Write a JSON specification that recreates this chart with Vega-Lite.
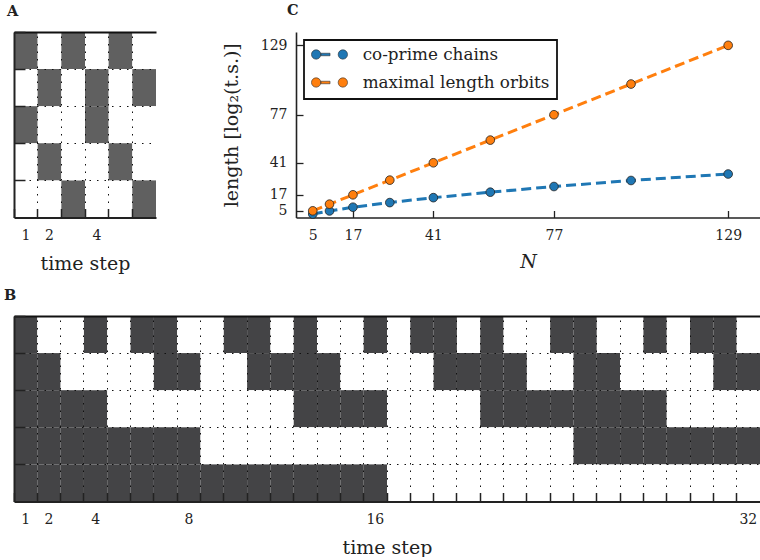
{
  "$schema": "https://vega.github.io/schema/vega-lite/v6.json",
  "padding": {"left": 4, "top": 2, "right": 0, "bottom": 0},
  "spacing": 14,
  "resolve": {"scale": {"color": "independent"}, "legend": {"color": "independent"}},
  "config": {
    "view": {"stroke": null},
    "font": "DejaVu Serif",
    "axis": {"labelFont": "DejaVu Serif", "titleFont": "DejaVu Serif", "labelColor": "#222", "titleColor": "#222", "labelFontSize": 14, "titleFontSize": 19, "titleFontWeight": "normal", "domainColor": "#222", "tickColor": "#222"},
    "legend": {"strokeWidth": 1.8},
    "title": {"font": "DejaVu Serif", "fontSize": 14.5, "fontWeight": "bold", "color": "#222", "anchor": "start", "frame": "group", "baseline": "alphabetic"}
  },
  "vconcat": [
    {
      "bounds": "flush",
      "spacing": 140,
      "resolve": {"scale": {"color": "independent"}, "legend": {"color": "independent"}},
      "hconcat": [
        {
          "width": 142,
          "height": 185.5,
          "title": {"text": "A", "dx": -7, "offset": 12},
          "data": {"values": [
            {"t":1,"r":1,"v":1},{"t":2,"r":1,"v":0},{"t":3,"r":1,"v":1},{"t":4,"r":1,"v":0},{"t":5,"r":1,"v":1},{"t":6,"r":1,"v":0},
            {"t":1,"r":2,"v":0},{"t":2,"r":2,"v":1},{"t":3,"r":2,"v":0},{"t":4,"r":2,"v":1},{"t":5,"r":2,"v":0},{"t":6,"r":2,"v":1},
            {"t":1,"r":3,"v":1},{"t":2,"r":3,"v":0},{"t":3,"r":3,"v":0},{"t":4,"r":3,"v":1},{"t":5,"r":3,"v":0},{"t":6,"r":3,"v":0},
            {"t":1,"r":4,"v":0},{"t":2,"r":4,"v":1},{"t":3,"r":4,"v":0},{"t":4,"r":4,"v":0},{"t":5,"r":4,"v":1},{"t":6,"r":4,"v":0},
            {"t":1,"r":5,"v":0},{"t":2,"r":5,"v":0},{"t":3,"r":5,"v":1},{"t":4,"r":5,"v":0},{"t":5,"r":5,"v":0},{"t":6,"r":5,"v":1}
          ]},
          "mark": {"type": "rect"},
          "encoding": {
            "x": {"field": "t", "type": "ordinal", "scale": {"paddingInner": 0, "paddingOuter": 0},
              "axis": {"title": "time step", "bandPosition": 0, "labelAngle": 0, "labelOverlap": false,
                "labelExpr": "indexof([1,2,4,8,16,32], datum.value) >= 0 ? datum.label : ''",
                "tickSize": -9, "tickWidth": 1.5, "labelPadding": 19.5, "titlePadding": 12,
                "grid": true, "gridDash": [1.5, 6], "gridColor": "#111", "gridWidth": 1,
                "domainWidth": 2, "zindex": 1}},
            "y": {"field": "r", "type": "ordinal", "scale": {"paddingInner": 0, "paddingOuter": 0},
              "axis": {"title": null, "labels": false, "bandPosition": 0, "tickSize": -11, "tickWidth": 1.5,
                "grid": true,
                "gridDash": {"condition": {"test": "datum.value === 1", "value": []}, "value": [1.5, 6]},
                "gridWidth": {"condition": {"test": "datum.value === 1", "value": 2}, "value": 1},
                "gridColor": "#111", "domainWidth": 2, "zindex": 1}},
            "color": {"field": "v", "type": "nominal", "scale": {"domain": [0, 1], "range": ["#ffffff", "#606060"]}, "legend": null}
          }
        },
        {
          "width": 464,
          "height": 185.5,
          "title": {"text": "C", "dx": -9, "offset": 14},
          "data": {"values": [
            {"N":5,"length":2.58,"series":"co-prime chains"},
            {"N":10,"length":4.91,"series":"co-prime chains"},
            {"N":17,"length":7.71,"series":"co-prime chains"},
            {"N":28,"length":11.17,"series":"co-prime chains"},
            {"N":41,"length":14.87,"series":"co-prime chains"},
            {"N":58,"length":18.96,"series":"co-prime chains"},
            {"N":77,"length":23.21,"series":"co-prime chains"},
            {"N":100,"length":27.73,"series":"co-prime chains"},
            {"N":129,"length":32.59,"series":"co-prime chains"},
            {"N":5,"length":5,"series":"maximal length orbits"},
            {"N":10,"length":10,"series":"maximal length orbits"},
            {"N":17,"length":17,"series":"maximal length orbits"},
            {"N":28,"length":28,"series":"maximal length orbits"},
            {"N":41,"length":41,"series":"maximal length orbits"},
            {"N":58,"length":58,"series":"maximal length orbits"},
            {"N":77,"length":77,"series":"maximal length orbits"},
            {"N":100,"length":100,"series":"maximal length orbits"},
            {"N":129,"length":129,"series":"maximal length orbits"}
          ]},
          "encoding": {
            "x": {"field": "N", "type": "quantitative", "scale": {"domain": [0, 138.5], "nice": false, "zero": false},
              "axis": {"title": "N", "titleFontStyle": "italic", "values": [5, 17, 41, 77, 129], "grid": false,
                "tickSize": -7, "tickWidth": 1.3, "labelPadding": 17.5, "titlePadding": 10, "domainWidth": 1.6, "labelFlush": false}},
            "y": {"field": "length", "type": "quantitative", "scale": {"domain": [0, 139], "nice": false},
              "axis": {"title": "length [log₂(t.s.)]", "values": [5, 17, 41, 77, 129], "grid": false,
                "tickSize": -7, "tickWidth": 1.3, "labelPadding": 16, "titlePadding": 19, "domainWidth": 1.6, "labelFlush": false}}
          },
          "layer": [
            {
              "mark": {"type": "line", "strokeDash": [10, 5], "strokeWidth": 3},
              "encoding": {"color": {"field": "series", "type": "nominal", "scale": {"domain": ["co-prime chains", "maximal length orbits"], "range": ["#1f77b4", "#ff7f0e"]}, "legend": null}}
            },
            {
              "mark": {"type": "point", "filled": true, "size": 75, "stroke": "#222", "strokeWidth": 0.8, "opacity": 1},
              "encoding": {"color": {"field": "series", "type": "nominal", "scale": {"domain": ["co-prime chains", "maximal length orbits"], "range": ["#1f77b4", "#ff7f0e"]},
                "legend": {"title": null, "orient": "top-left", "offset": 8,
                  "symbolType": "M -1.002 0 A 0.26 0.26 0 1 0 -0.482 0 A 0.26 0.26 0 1 0 -1.002 0 Z M -0.482 -0.07 L 0.03 -0.07 L 0.03 0.07 L -0.482 0.07 Z M 0.482 0 A 0.26 0.26 0 1 0 1.002 0 A 0.26 0.26 0 1 0 0.482 0 Z",
                  "symbolSize": 1296, "symbolStrokeColor": "#333", "symbolStrokeWidth": 0.6, "symbolOpacity": 1,
                  "clipHeight": 15, "rowPadding": 10, "padding": 7, "labelOffset": 14.7,
                  "labelFont": "DejaVu Serif", "labelFontSize": 16.8, "labelColor": "#222", "labelLimit": 300,
                  "strokeColor": "#111", "fillColor": "#ffffff", "cornerRadius": 0}}}
            }
          ],
          "resolve": {"legend": {"color": "independent"}}
        }
      ]
    },
    {
      "width": 746,
      "height": 185.5,
      "title": {"text": "B", "dx": -10, "offset": 12},
      "data": {"values": [
        {"t":1,"r":1,"v":1},{"t":2,"r":1,"v":0},{"t":3,"r":1,"v":0},{"t":4,"r":1,"v":1},{"t":5,"r":1,"v":0},{"t":6,"r":1,"v":1},{"t":7,"r":1,"v":1},{"t":8,"r":1,"v":0},
        {"t":9,"r":1,"v":0},{"t":10,"r":1,"v":1},{"t":11,"r":1,"v":1},{"t":12,"r":1,"v":0},{"t":13,"r":1,"v":1},{"t":14,"r":1,"v":0},{"t":15,"r":1,"v":0},{"t":16,"r":1,"v":1},
        {"t":17,"r":1,"v":0},{"t":18,"r":1,"v":1},{"t":19,"r":1,"v":1},{"t":20,"r":1,"v":0},{"t":21,"r":1,"v":1},{"t":22,"r":1,"v":0},{"t":23,"r":1,"v":0},{"t":24,"r":1,"v":1},
        {"t":25,"r":1,"v":1},{"t":26,"r":1,"v":0},{"t":27,"r":1,"v":0},{"t":28,"r":1,"v":1},{"t":29,"r":1,"v":0},{"t":30,"r":1,"v":1},{"t":31,"r":1,"v":1},{"t":32,"r":1,"v":0},
        {"t":1,"r":2,"v":1},{"t":2,"r":2,"v":1},{"t":3,"r":2,"v":0},{"t":4,"r":2,"v":0},{"t":5,"r":2,"v":0},{"t":6,"r":2,"v":0},{"t":7,"r":2,"v":1},{"t":8,"r":2,"v":1},
        {"t":9,"r":2,"v":0},{"t":10,"r":2,"v":0},{"t":11,"r":2,"v":1},{"t":12,"r":2,"v":1},{"t":13,"r":2,"v":1},{"t":14,"r":2,"v":1},{"t":15,"r":2,"v":0},{"t":16,"r":2,"v":0},
        {"t":17,"r":2,"v":0},{"t":18,"r":2,"v":0},{"t":19,"r":2,"v":1},{"t":20,"r":2,"v":1},{"t":21,"r":2,"v":1},{"t":22,"r":2,"v":1},{"t":23,"r":2,"v":0},{"t":24,"r":2,"v":0},
        {"t":25,"r":2,"v":1},{"t":26,"r":2,"v":1},{"t":27,"r":2,"v":0},{"t":28,"r":2,"v":0},{"t":29,"r":2,"v":0},{"t":30,"r":2,"v":0},{"t":31,"r":2,"v":1},{"t":32,"r":2,"v":1},
        {"t":1,"r":3,"v":1},{"t":2,"r":3,"v":1},{"t":3,"r":3,"v":1},{"t":4,"r":3,"v":1},{"t":5,"r":3,"v":0},{"t":6,"r":3,"v":0},{"t":7,"r":3,"v":0},{"t":8,"r":3,"v":0},
        {"t":9,"r":3,"v":0},{"t":10,"r":3,"v":0},{"t":11,"r":3,"v":0},{"t":12,"r":3,"v":0},{"t":13,"r":3,"v":1},{"t":14,"r":3,"v":1},{"t":15,"r":3,"v":1},{"t":16,"r":3,"v":1},
        {"t":17,"r":3,"v":0},{"t":18,"r":3,"v":0},{"t":19,"r":3,"v":0},{"t":20,"r":3,"v":0},{"t":21,"r":3,"v":1},{"t":22,"r":3,"v":1},{"t":23,"r":3,"v":1},{"t":24,"r":3,"v":1},
        {"t":25,"r":3,"v":1},{"t":26,"r":3,"v":1},{"t":27,"r":3,"v":1},{"t":28,"r":3,"v":1},{"t":29,"r":3,"v":0},{"t":30,"r":3,"v":0},{"t":31,"r":3,"v":0},{"t":32,"r":3,"v":0},
        {"t":1,"r":4,"v":1},{"t":2,"r":4,"v":1},{"t":3,"r":4,"v":1},{"t":4,"r":4,"v":1},{"t":5,"r":4,"v":1},{"t":6,"r":4,"v":1},{"t":7,"r":4,"v":1},{"t":8,"r":4,"v":1},
        {"t":9,"r":4,"v":0},{"t":10,"r":4,"v":0},{"t":11,"r":4,"v":0},{"t":12,"r":4,"v":0},{"t":13,"r":4,"v":0},{"t":14,"r":4,"v":0},{"t":15,"r":4,"v":0},{"t":16,"r":4,"v":0},
        {"t":17,"r":4,"v":0},{"t":18,"r":4,"v":0},{"t":19,"r":4,"v":0},{"t":20,"r":4,"v":0},{"t":21,"r":4,"v":0},{"t":22,"r":4,"v":0},{"t":23,"r":4,"v":0},{"t":24,"r":4,"v":0},
        {"t":25,"r":4,"v":1},{"t":26,"r":4,"v":1},{"t":27,"r":4,"v":1},{"t":28,"r":4,"v":1},{"t":29,"r":4,"v":1},{"t":30,"r":4,"v":1},{"t":31,"r":4,"v":1},{"t":32,"r":4,"v":1},
        {"t":1,"r":5,"v":1},{"t":2,"r":5,"v":1},{"t":3,"r":5,"v":1},{"t":4,"r":5,"v":1},{"t":5,"r":5,"v":1},{"t":6,"r":5,"v":1},{"t":7,"r":5,"v":1},{"t":8,"r":5,"v":1},
        {"t":9,"r":5,"v":1},{"t":10,"r":5,"v":1},{"t":11,"r":5,"v":1},{"t":12,"r":5,"v":1},{"t":13,"r":5,"v":1},{"t":14,"r":5,"v":1},{"t":15,"r":5,"v":1},{"t":16,"r":5,"v":1},
        {"t":17,"r":5,"v":0},{"t":18,"r":5,"v":0},{"t":19,"r":5,"v":0},{"t":20,"r":5,"v":0},{"t":21,"r":5,"v":0},{"t":22,"r":5,"v":0},{"t":23,"r":5,"v":0},{"t":24,"r":5,"v":0},
        {"t":25,"r":5,"v":0},{"t":26,"r":5,"v":0},{"t":27,"r":5,"v":0},{"t":28,"r":5,"v":0},{"t":29,"r":5,"v":0},{"t":30,"r":5,"v":0},{"t":31,"r":5,"v":0},{"t":32,"r":5,"v":0}
      ]},
      "mark": {"type": "rect"},
      "encoding": {
        "x": {"field": "t", "type": "ordinal", "scale": {"paddingInner": 0, "paddingOuter": 0},
          "axis": {"title": "time step", "bandPosition": 0, "labelAngle": 0, "labelOverlap": false,
            "labelExpr": "indexof([1,2,4,8,16,32], datum.value) >= 0 ? datum.label : ''",
            "tickSize": -9, "tickWidth": 1.5, "labelPadding": 19.5, "titlePadding": 12,
            "grid": true, "gridDash": [1.5, 6], "gridColor": "#111", "gridWidth": 1,
            "domainWidth": 2, "zindex": 1}},
        "y": {"field": "r", "type": "ordinal", "scale": {"paddingInner": 0, "paddingOuter": 0},
          "axis": {"title": null, "labels": false, "bandPosition": 0, "tickSize": -11, "tickWidth": 1.5,
            "grid": true,
            "gridDash": {"condition": {"test": "datum.value === 1", "value": []}, "value": [1.5, 6]},
            "gridWidth": {"condition": {"test": "datum.value === 1", "value": 2}, "value": 1},
            "gridColor": "#111", "domainWidth": 2, "zindex": 1}},
        "color": {"field": "v", "type": "nominal", "scale": {"domain": [0, 1], "range": ["#ffffff", "#444446"]}, "legend": null}
      }
    }
  ]
}
